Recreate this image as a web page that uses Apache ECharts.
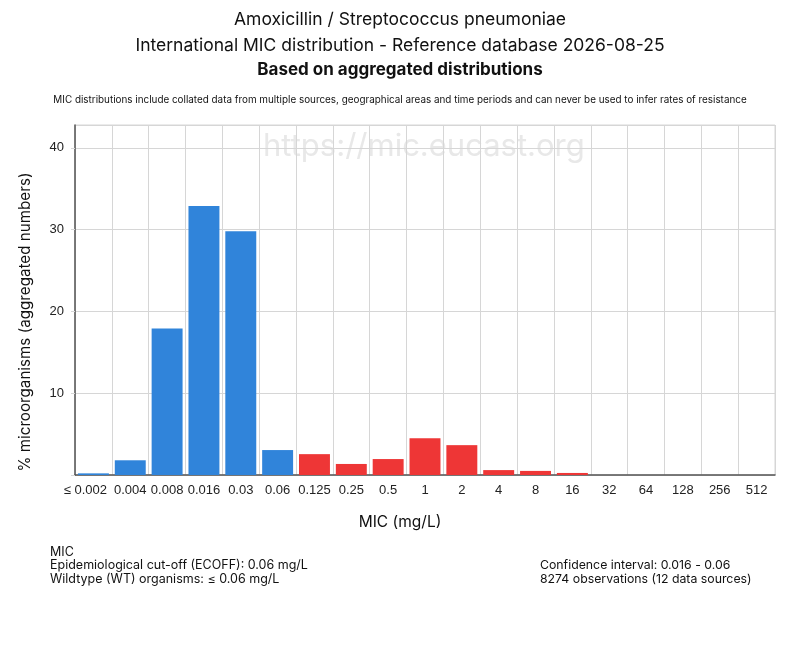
<!DOCTYPE html>
<html>
<head>
<meta charset="utf-8">
<script src="https://cdn.jsdelivr.net/npm/echarts@6/dist/echarts.min.js"></script>
<style>
html, body { margin: 0; padding: 0; background: #fff; }
#micChart { width: 800px; height: 650px; }
</style>
</head>
<body>
<div id="micChart"></div>
<script>
var micLabels = ['≤ 0.002', '0.004', '0.008', '0.016', '0.03', '0.06', '0.125', '0.25', '0.5',
    '1', '2', '4', '8', '16', '32', '64', '128', '256', '512'];
var micPercent = [0.2, 1.8, 17.9, 32.9, 29.8, 3.05, 2.55, 1.35, 1.95,
    4.5, 3.65, 0.6, 0.5, 0.25, 0, 0, 0, 0, 0];
var wildtype = [true, true, true, true, true, true, false, false, false,
    false, false, false, false, false, false, false, false, false, false];
var yTicks = [0, 10, 20, 30, 40];
var yMax = 42.8;

var fontName = 'Inter';
var tickFont = 'Liberation Sans';
var blue = '#3084da';
var red = '#ee3636';
var gridGrey = '#d6d6d6';

var dom = document.getElementById('micChart');
var micChart = echarts.init(dom);

// bars coloured by wildtype / non-wildtype
var barData = [];
for (let i = 0; i < micPercent.length; i++) {
    barData.push({
        value: micPercent[i],
        itemStyle: { color: wildtype[i] ? blue : red }
    });
}

// first label hangs to the left so it does not run into the next one
var categoryData = micLabels.map(function (lab, i) {
    if (i === 0) {
        return { value: lab, textStyle: { padding: [0, 16, 0, 0] } };
    }
    return lab;
});

var option = {
    animation: false,
    textStyle: { fontFamily: fontName },
    title: [
        {
            text: 'Amoxicillin / Streptococcus pneumoniae',
            left: 'center', top: 6,
            textStyle: { fontSize: 17.5, fontWeight: 'normal', color: '#111', fontFamily: fontName }
        },
        {
            text: 'International MIC distribution - Reference database 2026-08-25',
            left: 'center', top: 32,
            textStyle: { fontSize: 17.5, fontWeight: 'normal', color: '#111', fontFamily: fontName }
        },
        {
            text: 'Based on aggregated distributions',
            left: 'center', top: 56.5,
            textStyle: { fontSize: 17, fontWeight: 'bold', color: '#111', fontFamily: fontName }
        },
        {
            text: 'MIC distributions include collated data from multiple sources, geographical areas and time periods and can never be used to infer rates of resistance',
            left: 'center', top: 90,
            textStyle: { fontSize: 9.9, fontWeight: 'normal', color: '#111', fontFamily: fontName }
        },
        {
            text: 'MIC (mg/L)',
            left: 'center', top: 509,
            textStyle: { fontSize: 15.5, fontWeight: 'normal', color: '#111', fontFamily: fontName }
        },
        {
            text: 'MIC\nEpidemiological cut-off (ECOFF): 0.06 mg/L\nWildtype (WT) organisms: ≤ 0.06 mg/L',
            left: 45, top: 540,
            textStyle: { fontSize: 12.5, fontWeight: 'normal', color: '#111', lineHeight: 13.5, fontFamily: fontName }
        },
        {
            text: 'Confidence interval: 0.016 - 0.06\n8274 observations (12 data sources)',
            left: 535, top: 554,
            textStyle: { fontSize: 12.3, fontWeight: 'normal', color: '#111', lineHeight: 13.5, fontFamily: fontName }
        }
    ],
    graphic: [
        {
            type: 'text',
            left: 263, top: 131,
            z: 0,
            style: {
                text: 'https://mic.eucast.org',
                fontSize: 31,
                fontFamily: fontName,
                fill: '#e8e8e8'
            }
        },
        {
            type: 'text',
            x: 25, y: 322,
            rotation: Math.PI / 2,
            style: {
                text: '% microorganisms (aggregated numbers)',
                fontSize: 15.2,
                fontFamily: fontName,
                fill: '#111',
                align: 'center',
                verticalAlign: 'middle'
            }
        }
    ],
    grid: {
        left: 75, right: 25, top: 125, bottom: 175,
        show: true, borderColor: gridGrey, borderWidth: 1
    },
    xAxis: {
        type: 'category',
        data: categoryData,
        axisLine: { lineStyle: { color: '#555', width: 1.5 } },
        axisTick: { show: false },
        splitLine: { show: true, interval: 0, lineStyle: { color: gridGrey, width: 1 } },
        axisLabel: { interval: 0, fontSize: 13, color: '#222', margin: 9, fontFamily: tickFont }
    },
    yAxis: {
        type: 'value',
        min: 0, max: yMax, interval: 10,
        axisLine: { show: true, lineStyle: { color: '#555', width: 1.5 } },
        axisTick: { show: true, length: 4, lineStyle: { color: gridGrey } },
        splitLine: { lineStyle: { color: gridGrey, width: 1 } },
        axisLabel: {
            fontSize: 13, color: '#222', margin: 11, fontFamily: tickFont,
            showMaxLabel: false,
            formatter: function (v) { return (v > 0 && yTicks.indexOf(v) >= 0) ? String(v) : ''; }
        }
    },
    series: [
        {
            type: 'bar',
            data: barData,
            barCategoryGap: '16%',
            z: 3
        }
    ]
};

micChart.setOption(option);
</script>
</body>
</html>
